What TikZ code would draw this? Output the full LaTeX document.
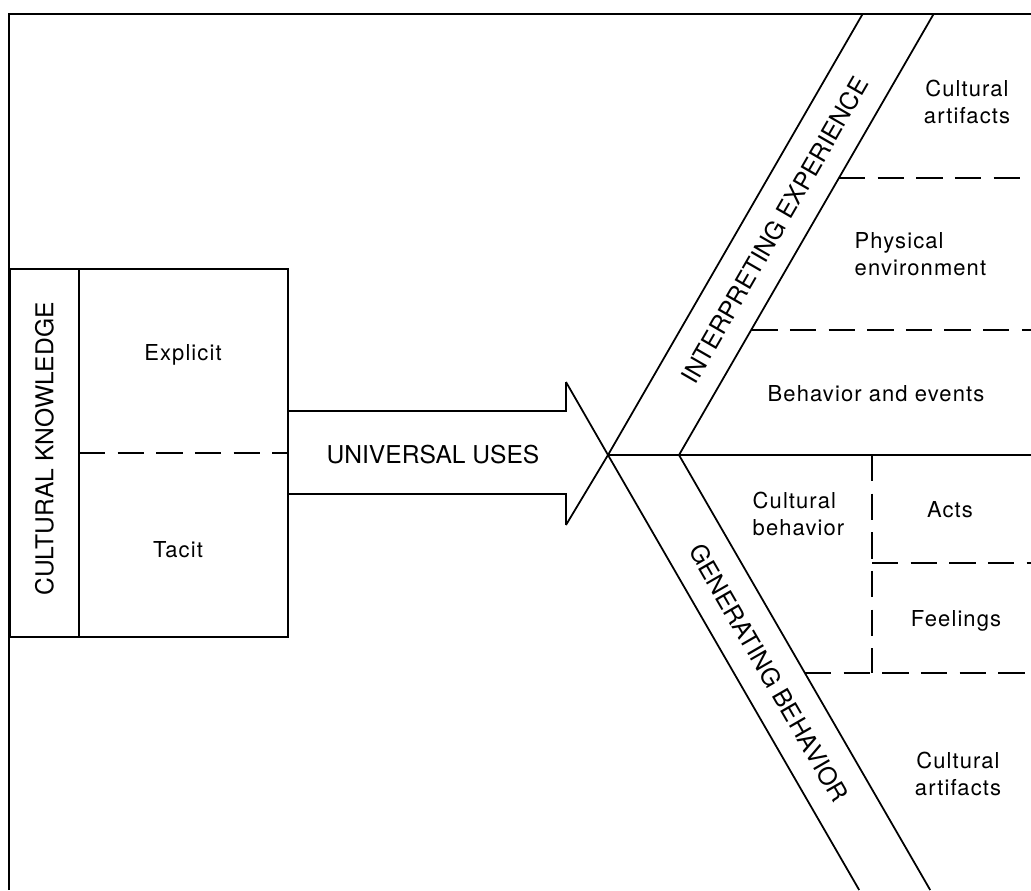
\documentclass[tikz,border=0pt]{standalone}
\usepackage{fontspec}
\setmainfont{TeX Gyre Heros}
\newfontfamily\lblfont[LetterSpace=5]{TeX Gyre Heros}

\begin{document}
\begin{tikzpicture}[x=0.02cm, y=-0.02cm, line width=1pt,
  cut/.style={dash pattern=on 15pt off 7pt},
  lbl/.style={font=\lblfont\fontsize{12.5}{15.5}\selectfont, align=center},
  caps/.style={font=\fontsize{14}{16}\selectfont}]
\useasboundingbox (0, 0) rectangle (1031, 890) ;

% frame
\coordinate (F0) at (9, 890) ;
\coordinate (F1) at (9, 14) ;
\coordinate (F2) at (1031, 14) ;
\draw (F0) -- (F1) -- (F2) ;

% knowledge box
\coordinate (K0) at (10, 269) ;
\coordinate (K1) at (288, 637) ;
\coordinate (K2) at (79, 269) ;
\coordinate (K3) at (79, 637) ;
\coordinate (K4) at (79, 453) ;
\coordinate (K5) at (288, 453) ;
\draw (K0) rectangle (K1) ;
\draw (K2) -- (K3) ;
\draw [cut] (K4) -- (K5) ;
\node (ck) [caps, rotate=90] at (44.5, 449) {CULTURAL KNOWLEDGE} ;
\node (ex) [lbl] at (183, 355) {Explicit} ;
\node (ta) [lbl] at (178, 550) {Tacit} ;

% arrow
\coordinate (X) at (608, 455) ;
\coordinate (A0) at (288, 411) ;
\coordinate (A1) at (566, 411) ;
\coordinate (A2) at (566, 382) ;
\coordinate (A3) at (566, 525) ;
\coordinate (A4) at (566, 494) ;
\coordinate (A5) at (288, 494) ;
\draw (A0) -- (A1) -- (A2) ;
\draw (A3) -- (A4) -- (A5) ;
\node (uu) [caps] at (433, 455) {UNIVERSAL USES} ;

% bands
\coordinate (Xr) at (679, 455) ;
\coordinate (IE0) at (862.6, 14) ;
\coordinate (IE1) at (933.6, 14) ;
\coordinate (GB0) at (859.2, 890) ;
\coordinate (GB1) at (930.2, 890) ;
\coordinate (R) at (1031, 455) ;
\draw (A2) -- (X) -- (GB0) ;
\draw (A3) -- (X) -- (IE0) ;
\draw (Xr) -- (IE1) ;
\draw (Xr) -- (GB1) ;
\draw (X) -- (R) ;
\node (ie) [caps, rotate=60] at (775, 230) {INTERPRETING EXPERIENCE} ;
\node (gb) [caps, rotate=-60] at (769, 673) {GENERATING BEHAVIOR} ;

% interpreting side
\coordinate (D0) at (838.9, 178) ;
\coordinate (D1) at (1031, 178) ;
\coordinate (D2) at (751.2, 330) ;
\coordinate (D3) at (1031, 330) ;
\draw [cut] (D0) -- (D1) ;
\draw [cut] (D2) -- (D3) ;
\node (ca1) [lbl] at (967, 102) {Cultural\\artifacts} ;
\node (pe) [lbl, align=left, anchor=west] at (848, 254) {Physical\\environment} ;
\node (be) [lbl] at (876, 394) {Behavior and events} ;

% generating side
\coordinate (V0) at (872, 455) ;
\coordinate (V1) at (872, 673) ;
\coordinate (V2) at (872, 563) ;
\coordinate (V3) at (1031, 563) ;
\coordinate (D4) at (804.9, 673) ;
\coordinate (D5) at (1031, 673) ;
\draw [cut] (V0) -- (V1) ;
\draw [cut] (V2) -- (V3) ;
\draw [cut] (D4) -- (D5) ;
\node (cb) [lbl, align=left, anchor=west] at (746, 514) {Cultural\\behavior} ;
\node (ac) [lbl] at (950, 510) {Acts} ;
\node (fe) [lbl] at (956, 621) {Feelings} ;
\node (ca2) [lbl] at (958, 774) {Cultural\\artifacts} ;
\end{tikzpicture}
\end{document}
